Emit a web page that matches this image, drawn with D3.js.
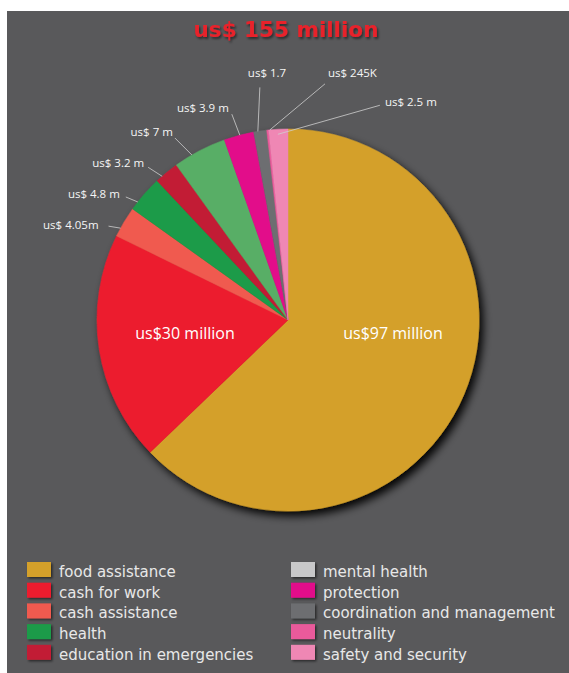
<!DOCTYPE html>
<html>
<head>
<meta charset="utf-8">
<script src="https://cdn.jsdelivr.net/npm/d3@7/dist/d3.min.js"></script>
<style>
  html, body { margin: 0; padding: 0; background: #ffffff; }
  svg { display: block; }
</style>
</head>
<body>
<div id="chart"></div>
<script>
// ---- data ----
const title = "us$ 155 million";
const categories = ["food assistance", "cash for work", "cash assistance", "health",
  "education in emergencies", "mental health", "protection",
  "coordination and management", "neutrality", "safety and security"];
const values = [97, 30, 4.05, 4.8, 3.2, 7, 3.9, 1.7, 0.245, 2.5];
const valueLabels = ["us$97 million", "us$30 million", "us$ 4.05m", "us$ 4.8 m", "us$ 3.2 m",
  "us$ 7 m", "us$ 3.9 m", "us$ 1.7", "us$ 245K", "us$ 2.5 m"];
const sliceColors = ["#d4a02a", "#ec1c2f", "#f05a4f", "#1e9b48", "#c21f36",
  "#58ae66", "#e20e8a", "#6d6e71", "#ea5a9b", "#ef87b4"];
const legendLabels = categories;
const legendColors = ["#d4a02a", "#ec1c2f", "#f05a4f", "#1e9b48", "#c21f36",
  "#c8c8c9", "#e20e8a", "#6d6e71", "#ea5a9b", "#ef87b4"];

// ---- label layout (annotation geometry, not data) ----
const insideLayout = { 0: [105, 19], 1: [-103, 19] };
const outsideLayout = {
  2: { shift: -2.1, r: 191, v: [-12, -2], t: [-10, 3], a: "end" },
  3: { shift: -3.0, r: 191, v: [-12, -5], t: [-6, 1], a: "end" },
  4: { shift: -1.7, r: 191, v: [-14, -9], t: [-4, 0], a: "end" },
  5: { shift: -2.6, r: 191, v: [-17, -17], t: [-2, -2], a: "end" },
  6: { shift: 0.3, r: 191, v: [-8, -21], t: [-3, -2], a: "end" },
  7: { shift: -0.7, r: 191, v: [2, -44], t: [-12, -10], a: "start" },
  8: { shift: 0.7, r: 191, v: [55, -46], t: [3, -7], a: "start" },
  9: { shift: -0.2, r: 186, v: [102, -29], t: [5, 1], a: "start" }
};

const W = 569, H = 673;
const svg = d3.select("#chart").append("svg").attr("width", W).attr("height", H);

const defs = svg.append("defs");
const f1 = defs.append("filter").attr("id", "pieShadow")
  .attr("x", "-20%").attr("y", "-20%").attr("width", "140%").attr("height", "140%");
f1.append("feDropShadow").attr("dx", 4).attr("dy", 5).attr("stdDeviation", 4.5)
  .attr("flood-color", "#000").attr("flood-opacity", 0.95);
const f2 = defs.append("filter").attr("id", "txtShadow")
  .attr("x", "-20%").attr("y", "-30%").attr("width", "140%").attr("height", "160%");
f2.append("feDropShadow").attr("dx", 1.5).attr("dy", 2).attr("stdDeviation", 1.2)
  .attr("flood-color", "#000").attr("flood-opacity", 0.5);
const f3 = defs.append("filter").attr("id", "swShadow")
  .attr("x", "-20%").attr("y", "-30%").attr("width", "150%").attr("height", "170%");
f3.append("feDropShadow").attr("dx", 1.5).attr("dy", 1.5).attr("stdDeviation", 1)
  .attr("flood-color", "#000").attr("flood-opacity", 0.55);

// panel
svg.append("rect").attr("x", 7).attr("y", 11).attr("width", 562).attr("height", 662)
  .attr("fill", "#59595b");

// title
svg.append("text").attr("x", 286).attr("y", 37).attr("text-anchor", "middle")
  .attr("font-family", "DejaVu Sans").attr("font-weight", "bold").attr("font-size", 21.5)
  .attr("fill", "#e8212b").attr("filter", "url(#txtShadow)").text(title);

// pie
const cx = 288, cy = 320, R = 191;
const pie = d3.pie().sort(null).value(d => d).startAngle(0).endAngle(2 * Math.PI);
const arcs = pie(values);
const arc = d3.arc().innerRadius(0).outerRadius(R);
const g = svg.append("g").attr("transform", `translate(${cx},${cy})`);
g.append("g").attr("filter", "url(#pieShadow)")
  .selectAll("path").data(arcs).join("path")
  .attr("d", arc)
  .attr("fill", (d, i) => sliceColors[i])
  .attr("stroke", (d, i) => sliceColors[i]).attr("stroke-width", 0.5);

// inside labels
Object.keys(insideLayout).forEach(k => {
  const [dx, dy] = insideLayout[k];
  g.append("text").attr("x", dx).attr("y", dy).attr("text-anchor", "middle")
    .attr("font-family", "Open Sans").attr("font-size", 16).attr("fill", "#ffffff")
    .text(valueLabels[+k]);
});

// outside labels with leaders
Object.keys(outsideLayout).forEach(k => {
  const i = +k, L = outsideLayout[k];
  const a = (arcs[i].startAngle + arcs[i].endAngle) / 2 + L.shift * Math.PI / 180;
  const x0 = L.r * Math.sin(a), y0 = -L.r * Math.cos(a);
  const x1 = x0 + L.v[0], y1 = y0 + L.v[1];
  g.append("line").attr("x1", x0).attr("y1", y0).attr("x2", x1).attr("y2", y1)
    .attr("stroke", "#cfcfcf").attr("stroke-width", 0.8);
  g.append("text").attr("x", x1 + L.t[0]).attr("y", y1 + L.t[1]).attr("text-anchor", L.a)
    .attr("font-family", "Open Sans").attr("font-size", 11.5).attr("fill", "#f5f5f5")
    .text(valueLabels[i]);
});

// legend
const legend = svg.append("g");
legendLabels.forEach((lab, i) => {
  const col = Math.floor(i / 5), row = i % 5;
  const x = col === 0 ? 27 : 291;
  const y = 562 + row * 20.7;
  legend.append("rect").attr("x", x).attr("y", y).attr("width", 24).attr("height", 15)
    .attr("fill", legendColors[i]).attr("filter", "url(#swShadow)");
  legend.append("text").attr("x", x + 32).attr("y", y + 15)
    .attr("font-family", "DejaVu Sans").attr("font-size", 15).attr("fill", "#e8e8e8")
    .text(lab);
});
</script>
</body>
</html>
